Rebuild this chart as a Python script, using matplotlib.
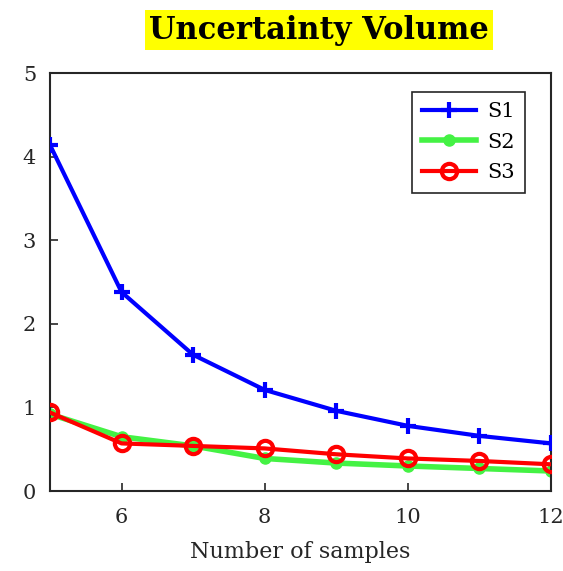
import numpy as np
import matplotlib.pyplot as plt

# number of samples
samples = [5, 6, 7, 8, 9, 10, 11, 12]

# uncertainty volume for each strategy
s1 = [4.14, 2.38, 1.63, 1.21, 0.96, 0.78, 0.66, 0.57]
s2 = [0.92, 0.65, 0.54, 0.39, 0.335, 0.30, 0.27, 0.24]
s3 = [0.94, 0.57, 0.54, 0.51, 0.44, 0.39, 0.36, 0.32]

plt.rcParams['font.family'] = ['DejaVu Serif']

fig = plt.figure(figsize=(5.63, 5.71), dpi=100)
ax = fig.add_axes([0.0888, 0.140, 0.8899, 0.732])

ax.plot(samples, s2, color='#44f244', lw=4, marker='o', ms=8, label='S2', zorder=2)
ax.plot(samples, s1, color='#0000ff', lw=3, marker='+', ms=11, mew=3, label='S1', zorder=3)
ax.plot(samples, s3, color='#ff0000', lw=3, marker='o', ms=11, mfc='none', mew=3, label='S3', zorder=4)

ax.set_xlim(5, 12)
ax.set_ylim(0, 5)
ax.set_xticks([6, 8, 10, 12])
ax.set_yticks([0, 1, 2, 3, 4, 5])
ax.tick_params(direction='in', length=6, width=1.2, labelsize=15, colors='#262626')
ax.tick_params(axis='x', pad=12)
ax.tick_params(axis='y', pad=10)
for sp in ax.spines.values():
    sp.set_linewidth(1.5)
    sp.set_color('#262626')

ax.set_xlabel('Number of samples', fontsize=16, color='#262626', labelpad=10)

handles, labels = ax.get_legend_handles_labels()
order = [1, 0, 2]
leg = ax.legend([handles[i] for i in order], [labels[i] for i in order],
                loc='upper right', bbox_to_anchor=(0.948, 0.955),
                fontsize=15, fancybox=False, edgecolor='#262626',
                framealpha=1, borderaxespad=0, handlelength=2.6,
                labelspacing=0.55, handletextpad=0.5, borderpad=0.5)
leg.get_frame().set_linewidth(1.2)

fig.text(0.567, 0.947, 'Uncertainty Volume', ha='center', va='center',
         fontsize=22, fontweight='bold',
         bbox=dict(facecolor='#ffff00', edgecolor='none', pad=3))

fig.savefig('out.png', dpi=100)
